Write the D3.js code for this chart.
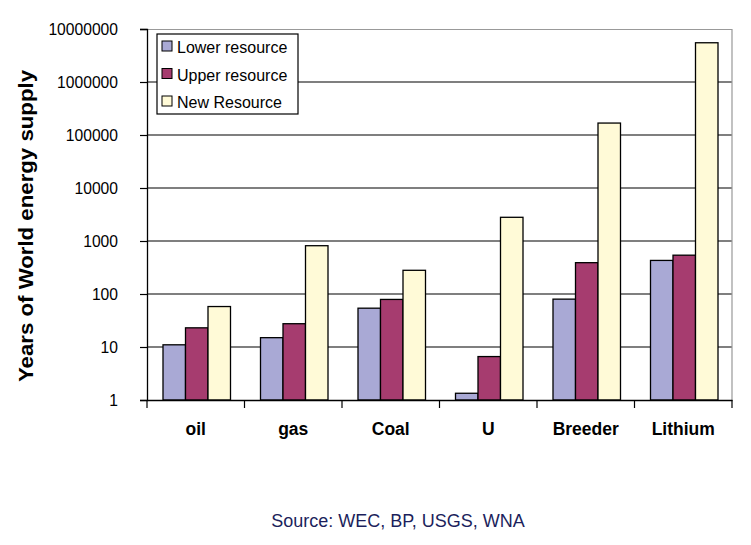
<!DOCTYPE html>
<html>
<head>
<meta charset="utf-8">
<script src="https://cdn.jsdelivr.net/npm/d3@7"></script>
<style>
  body { margin: 0; background: #fff; }
  text { font-family: "Liberation Sans", Arial, sans-serif; }
</style>
</head>
<body>
<svg id="chart" width="751" height="545"></svg>
<script>
// data
var categories = ["oil", "gas", "Coal", "U", "Breeder", "Lithium"];
var seriesNames = ["Lower resource", "Upper resource", "New Resource"];
var lowerRes = [11, 15, 54, 1.34, 80, 430];
var upperRes = [23, 27.5, 79, 6.6, 390, 540];
var newRes = [58, 815, 280, 2800, 168000, 5500000];
var yTicks = [1, 10, 100, 1000, 10000, 100000, 1000000, 10000000];
var colors = ["#a9a9d5", "#a63c6f", "#fffad7"];

var svg = d3.select("#chart"),
    margin = {top: 29, right: 19, bottom: 145, left: 147},
    width = 751 - margin.left - margin.right,
    height = 545 - margin.top - margin.bottom;

var g = svg.append("g").attr("transform", "translate(" + margin.left + "," + margin.top + ")");

var x0 = d3.scaleBand().domain(categories).range([0, width]).paddingInner(0).paddingOuter(0);
var x1 = d3.scaleBand().domain(seriesNames).range([16, x0.bandwidth() - 14]);
var y = d3.scaleLog().domain([1, 10000000]).range([height, 0]);

// gridlines
g.selectAll("line.grid")
  .data(yTicks.slice(1, -1))
  .enter().append("line")
  .attr("class", "grid")
  .attr("x1", 0).attr("x2", width)
  .attr("y1", function (d) { return y(d); })
  .attr("y2", function (d) { return y(d); })
  .attr("stroke", "#000").attr("stroke-width", 1.2);

// plot border (top/right grey)
g.append("path")
  .attr("d", "M0,0.5H" + width + "V" + height)
  .attr("fill", "none").attr("stroke", "#999").attr("stroke-width", 1.2);

// bars
var rows = categories.map(function (c, i) {
  return {cat: c, vals: [lowerRes[i], upperRes[i], newRes[i]]};
});

var groups = g.selectAll("g.cat")
  .data(rows)
  .enter().append("g")
  .attr("class", "cat")
  .attr("transform", function (d) { return "translate(" + x0(d.cat) + ",0)"; });

groups.selectAll("rect")
  .data(function (d) { return d.vals.map(function (v, j) { return {s: seriesNames[j], v: v, j: j}; }); })
  .enter().append("rect")
  .attr("x", function (d) { return x1(d.s); })
  .attr("width", x1.bandwidth())
  .attr("y", function (d) { return y(d.v); })
  .attr("height", function (d) { return height - y(d.v); })
  .attr("fill", function (d) { return colors[d.j]; })
  .attr("stroke", "#000").attr("stroke-width", 1.3);

// y axis
var yAxis = d3.axisLeft(y).tickValues(yTicks).tickFormat(d3.format("d")).tickSize(7).tickPadding(22);
var ya = g.append("g").call(yAxis);
ya.select(".domain").attr("stroke", "#000").attr("stroke-width", 1.3);
ya.selectAll(".tick line").attr("stroke", "#000").attr("stroke-width", 1.2);
ya.selectAll(".tick text")
  .attr("font-family", "Liberation Sans, Arial, sans-serif")
  .attr("font-size", "17px").attr("fill", "#000")
  .attr("textLength", function (d) { return String(d).length * 8.7; })
  .attr("lengthAdjust", "spacingAndGlyphs");

// x axis
var xa = g.append("g").attr("transform", "translate(0," + height + ")")
  .call(d3.axisBottom(x0).tickSize(0).tickPadding(23));
xa.select(".domain").attr("stroke", "#000").attr("stroke-width", 1.3);
xa.selectAll(".tick text")
  .attr("font-family", "Liberation Sans, Arial, sans-serif")
  .attr("font-size", "17.5px").attr("font-weight", "bold").attr("fill", "#000");

// category separator ticks
xa.selectAll("line.sep")
  .data(d3.range(categories.length + 1))
  .enter().append("line")
  .attr("class", "sep")
  .attr("x1", function (i) { return i * x0.step(); })
  .attr("x2", function (i) { return i * x0.step(); })
  .attr("y1", 0).attr("y2", 8)
  .attr("stroke", "#000").attr("stroke-width", 1.2);

// y title
svg.append("text")
  .attr("transform", "translate(33," + 226 + ") rotate(-90)")
  .attr("text-anchor", "middle")
  .attr("font-size", "20px").attr("font-weight", "bold")
  .attr("textLength", 312).attr("lengthAdjust", "spacingAndGlyphs")
  .text("Years of World energy supply");

// legend
var lg = svg.append("g").attr("transform", "translate(157,34)");
lg.append("rect").attr("width", 141).attr("height", 80)
  .attr("fill", "#fff").attr("stroke", "#000").attr("stroke-width", 1.2);
seriesNames.forEach(function (s, i) {
  var ry = 13 + i * 27.5;
  lg.append("rect").attr("x", 5).attr("y", ry - 6).attr("width", 10).attr("height", 10)
    .attr("fill", colors[i]).attr("stroke", "#000").attr("stroke-width", 1);
  lg.append("text").attr("x", 20).attr("y", ry + 6)
    .attr("font-size", "16px").text(s);
});

// source
svg.append("text")
  .attr("x", 398).attr("y", 527)
  .attr("text-anchor", "middle")
  .attr("font-size", "18px").attr("fill", "#1c1f5c")
  .text("Source: WEC, BP, USGS, WNA");
</script>
</body>
</html>
